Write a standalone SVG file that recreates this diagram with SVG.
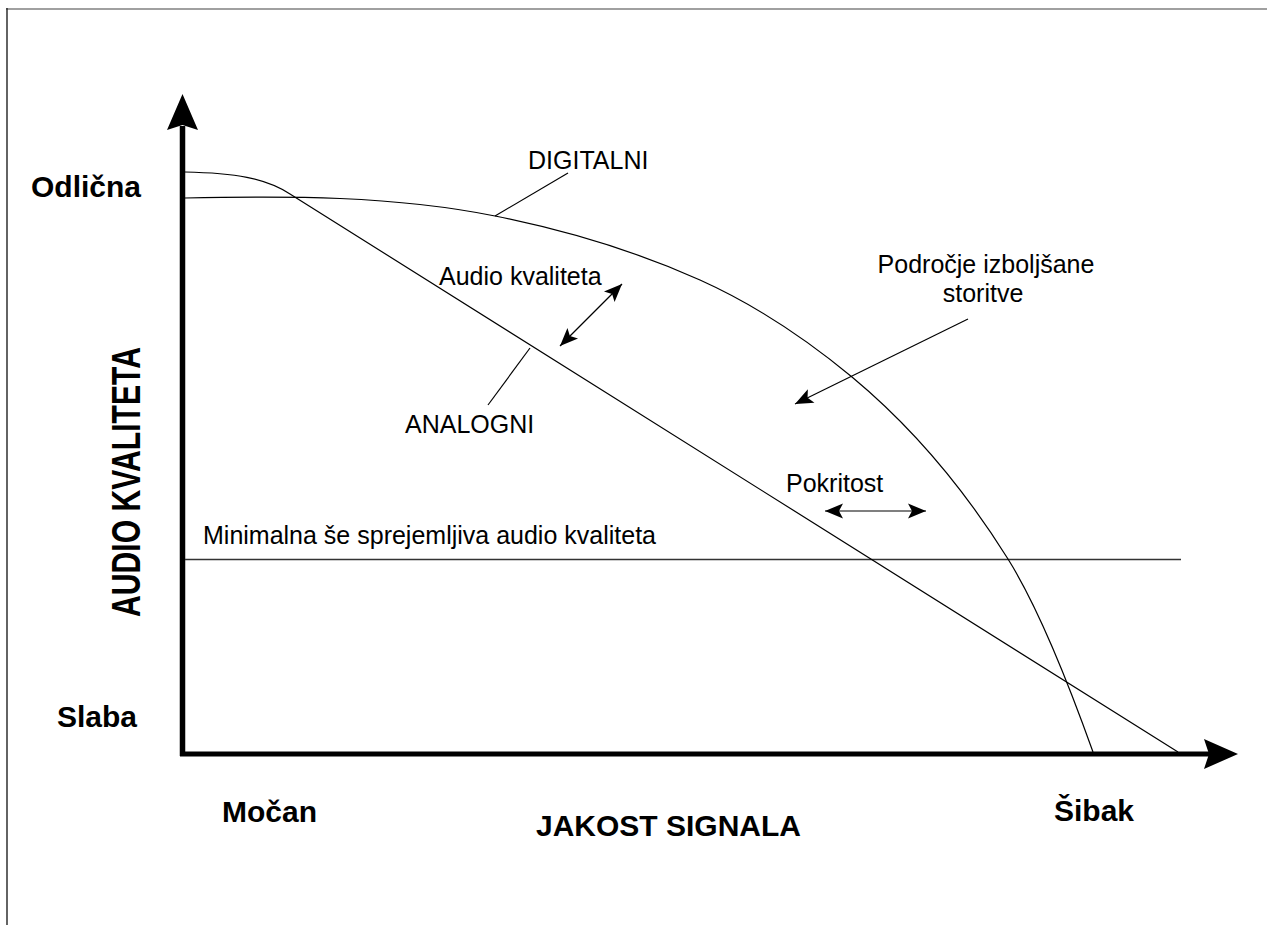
<svg xmlns="http://www.w3.org/2000/svg" width="1267" height="925" viewBox="0 0 1267 925">
<style>
.lbl{font-family:"Liberation Sans",Arial,sans-serif;font-size:25px;fill:#000}
.bold{font-family:"Liberation Sans",Arial,sans-serif;font-size:30px;font-weight:bold;fill:#000}
.thin{fill:none;stroke:#000;stroke-width:1.2}
.arr{fill:none;stroke:#000;stroke-width:1.2}
</style>
<defs>
<marker id="ah" viewBox="-1 -9 21 18" refX="18" refY="0" markerWidth="21" markerHeight="18" markerUnits="userSpaceOnUse" orient="auto-start-reverse">
<path d="M18,0 L0,-7.5 L4,0 L0,7.5 Z" fill="#000"/>
</marker>
</defs>
<rect width="1267" height="925" fill="#fff"/>
<g id="frame">
<line x1="6" y1="9" x2="1267" y2="9" stroke="#808080" stroke-width="1.6"/>
<line x1="7" y1="8" x2="7" y2="925" stroke="#222" stroke-width="1.4"/>
</g>
<g id="axes">
<line x1="182.5" y1="126" x2="182.5" y2="756" stroke="#000" stroke-width="5.5"/>
<polygon points="182.5,94 167,130 182.5,125 198,130" fill="#000"/>
<line x1="180" y1="754" x2="1210" y2="754" stroke="#000" stroke-width="5"/>
<polygon points="1238,754 1204,739 1209,754 1204,769" fill="#000"/>
</g>
<g id="connectors">
<line x1="185" y1="559.5" x2="1181" y2="559.5" stroke="#333" stroke-width="1.3"/>
<path id="analog" class="thin" d="M185,172 C235,173 265,178 290,194 L1178,752"/>
<path id="digital" class="thin" d="M185,198 C288,196 392,195.4 495,216 C563.3,229.7 631.7,249.3 700,280 C750.7,302.8 801.3,335 852,377 C904,420.2 956,475.8 1008,559 C1036.3,604.3 1064.7,672.7 1093,752"/>
<line class="thin" x1="495" y1="216" x2="568" y2="173"/>
<line class="thin" x1="530" y1="348" x2="488" y2="405"/>
<line class="arr" x1="560" y1="346" x2="622" y2="284" marker-start="url(#ah)" marker-end="url(#ah)"/>
<line class="arr" x1="968" y1="319" x2="795" y2="404" marker-end="url(#ah)"/>
<line class="arr" x1="825" y1="511" x2="926" y2="511" marker-start="url(#ah)" marker-end="url(#ah)"/>
</g>
<g id="label-odlicna"><text class="bold" x="31" y="197">Odlična</text></g>
<g id="label-slaba"><text class="bold" x="57" y="727">Slaba</text></g>
<g id="label-yaxis"><text class="bold" transform="translate(140,482) rotate(-90)" text-anchor="middle" style="font-size:41px" textLength="270" lengthAdjust="spacingAndGlyphs">AUDIO KVALITETA</text></g>
<g id="label-mocan"><text class="bold" x="222" y="822">Močan</text></g>
<g id="label-xaxis"><text class="bold" x="536" y="836">JAKOST SIGNALA</text></g>
<g id="label-sibak"><text class="bold" x="1054" y="821">Šibak</text></g>
<g id="label-digitalni"><text class="lbl" x="528" y="169">DIGITALNI</text></g>
<g id="label-audio"><text class="lbl" x="439" y="285">Audio kvaliteta</text></g>
<g id="label-analogni"><text class="lbl" x="405" y="433">ANALOGNI</text></g>
<g id="label-podrocje"><text class="lbl" x="986" y="273" text-anchor="middle">Področje izboljšane</text><text class="lbl" x="983" y="302" text-anchor="middle">storitve</text></g>
<g id="label-pokritost"><text class="lbl" x="786" y="492">Pokritost</text></g>
<g id="label-min"><text class="lbl" x="203" y="544">Minimalna še sprejemljiva audio kvaliteta</text></g>
</svg>
